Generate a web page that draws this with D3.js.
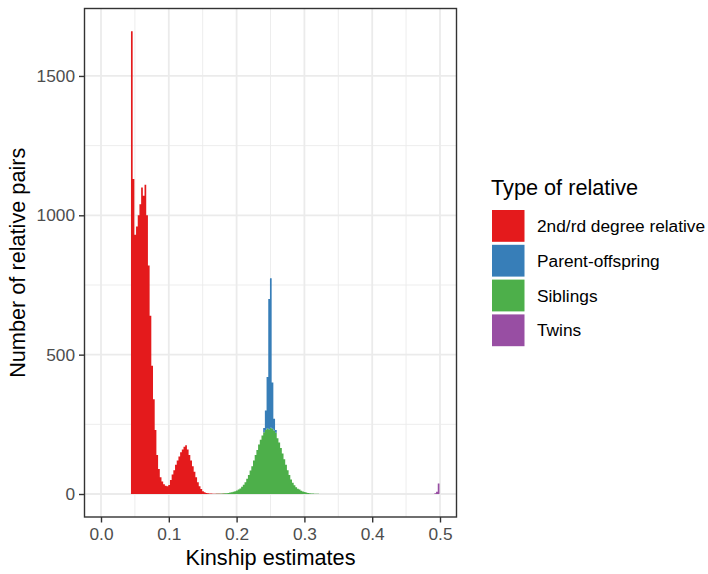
<!DOCTYPE html>
<html>
<head>
<meta charset="utf-8">
<script src="https://cdn.jsdelivr.net/npm/d3@7/dist/d3.min.js"></script>
<style>
body { margin: 0; background: #ffffff; }
text { font-family: "Liberation Sans", Arial, sans-serif; }
</style>
</head>
<body>
<script>
// Histogram of kinship estimates, stacked by type of relative.
// Bins are 0.0025 wide, starting at the 3rd degree cutoff 0.0442.
var binStart = 0.0442,
    binWidth = 0.0025;

var categories = ["2nd/rd degree relative", "Parent-offspring",
                  "Siblings", "Twins"];
var colors = ["#E41A1C", "#377EB8", "#4DAF4A", "#984EA3"];

// counts per bin, each series begins at its own first bin index
var relativeFirstBin = 0;
var relativeCounts = [
    1660, 1130, 930, 960, 1000, 1040, 1100, 1070, 1110, 1000,
    820, 640, 460, 340, 230, 140, 90, 60, 45, 35,
    30, 28, 32, 50, 70, 85, 105, 120, 135, 150,
    160, 170, 175, 160, 140, 120, 100, 80, 60, 42,
    28, 18, 10, 6, 4, 3, 2, 2, 1, 1,
    1, 1, 1, 0, 1];

var parentFirstBin = 78;
var parentCounts = [15, 70, 184, 468, 536, 166, 42, 10];

var siblingFirstBin = 50;
var siblingCounts = [
    1, 1, 1, 2, 2, 3, 3, 4, 5, 6,
    8, 10, 13, 16, 20, 26, 33, 42, 55, 68,
    84, 100, 120, 140, 158, 178, 195, 210, 222, 230,
    236, 232, 238, 234, 228, 220, 200, 185, 165, 145,
    125, 105, 85, 68, 52, 40, 31, 24, 19, 16,
    12, 9, 7, 5, 4, 3, 2, 2, 1, 1, 1];

var twinFirstBin = 179;
var twinCounts = [3, 8, 38];

var xTicks = [0, 0.1, 0.2, 0.3, 0.4, 0.5];
var xMinor = [0.05, 0.15, 0.25, 0.35, 0.45];
var yTicks = [0, 500, 1000, 1500];
var yMinor = [250, 750, 1250];

// panel placement (ggplot theme_bw look)
var margin = {top: 8.5, right: 251.5, bottom: 57, left: 84.5},
    width = 708 - margin.left - margin.right,
    height = 574 - margin.top - margin.bottom;

var svg = d3.select("body").append("svg")
    .attr("width", 708)
    .attr("height", 574);

var g = svg.append("g")
    .attr("transform", "translate(" + margin.left + "," + margin.top + ")");

var xScale = d3.scaleLinear().domain([-0.02434, 0.52434]).range([0, width]);
var yScale = d3.scaleLinear().domain([-82.5, 1742]).range([height, 0]);

// build one row per bin for d3.stack
var series = [
    {name: categories[0], first: relativeFirstBin, counts: relativeCounts},
    {name: categories[1], first: parentFirstBin, counts: parentCounts},
    {name: categories[2], first: siblingFirstBin, counts: siblingCounts},
    {name: categories[3], first: twinFirstBin, counts: twinCounts}
];
var nBins = d3.max(series, function(s) { return s.first + s.counts.length; });
var table = d3.range(nBins).map(function(i) {
    var row = {x0: binStart + i * binWidth, x1: binStart + (i + 1) * binWidth};
    series.forEach(function(s) {
        var j = i - s.first;
        row[s.name] = (j >= 0 && j < s.counts.length) ? s.counts[j] : 0;
    });
    return row;
});

var color = d3.scaleOrdinal().domain(categories).range(colors);

// ggplot puts the first level on top, so stack in reverse order
var stacked = d3.stack().keys(categories.slice().reverse())(table);

// grid
g.append("g").selectAll("line")
    .data(xMinor).enter().append("line")
    .attr("x1", function(d) { return xScale(d); })
    .attr("x2", function(d) { return xScale(d); })
    .attr("y1", 0).attr("y2", height)
    .attr("stroke", "#EBEBEB").attr("stroke-width", 0.9);
g.append("g").selectAll("line")
    .data(yMinor).enter().append("line")
    .attr("y1", function(d) { return yScale(d); })
    .attr("y2", function(d) { return yScale(d); })
    .attr("x1", 0).attr("x2", width)
    .attr("stroke", "#EBEBEB").attr("stroke-width", 0.9);
g.append("g").selectAll("line")
    .data(xTicks).enter().append("line")
    .attr("x1", function(d) { return xScale(d); })
    .attr("x2", function(d) { return xScale(d); })
    .attr("y1", 0).attr("y2", height)
    .attr("stroke", "#EBEBEB").attr("stroke-width", 1.8);
g.append("g").selectAll("line")
    .data(yTicks).enter().append("line")
    .attr("y1", function(d) { return yScale(d); })
    .attr("y2", function(d) { return yScale(d); })
    .attr("x1", 0).attr("x2", width)
    .attr("stroke", "#EBEBEB").attr("stroke-width", 1.8);

// bars: each stacked layer is drawn as one stepped outline so that
// neighbouring bins do not leave thin seams between them
var stepArea = d3.area()
    .x(function(p) { return xScale(p.x); })
    .y0(function(p) { return yScale(p.lo); })
    .y1(function(p) { return yScale(p.hi); });

function stepPoints(layer) {
    var pts = [];
    layer.forEach(function(p) {
        pts.push({x: p.data.x0, lo: p[0], hi: p[1]});
        pts.push({x: p.data.x1, lo: p[0], hi: p[1]});
    });
    return pts;
}

g.append("g").selectAll("path")
    .data(stacked).enter().append("path")
    .attr("fill", function(d) { return color(d.key); })
    .attr("d", function(d) {
        return stepArea.defined(function(p) { return p.hi > p.lo; })(stepPoints(d));
    });

// panel border
g.append("rect")
    .attr("width", width).attr("height", height)
    .attr("fill", "none").attr("stroke", "#333333").attr("stroke-width", 1.4);

// axes
var xAxis = d3.axisBottom(xScale).tickValues(xTicks).tickSize(5.5)
    .tickPadding(5).tickFormat(d3.format(".1f"));
var yAxis = d3.axisLeft(yScale).tickValues(yTicks).tickSize(5.5)
    .tickPadding(4).tickFormat(d3.format("d"));

var gx = g.append("g")
    .attr("transform", "translate(0," + height + ")")
    .call(xAxis);
var gy = g.append("g").call(yAxis);

[gx, gy].forEach(function(ax) {
    ax.select(".domain").remove();
    ax.selectAll(".tick line")
        .attr("stroke", "#333333").attr("stroke-width", 1.4);
    ax.selectAll(".tick text")
        .attr("fill", "#4D4D4D")
        .style("font-size", "17.3px")
        .style("font-family", "'Liberation Sans', Arial, sans-serif");
});

// axis titles
svg.append("text")
    .attr("x", margin.left + width / 2)
    .attr("y", 565)
    .attr("text-anchor", "middle")
    .style("font-size", "21.7px")
    .attr("fill", "#000000")
    .text("Kinship estimates");

svg.append("text")
    .attr("transform", "rotate(-90)")
    .attr("x", -(margin.top + height / 2))
    .attr("y", 25)
    .attr("text-anchor", "middle")
    .style("font-size", "21.7px")
    .attr("fill", "#000000")
    .text("Number of relative pairs");

// legend
var legend = svg.append("g").attr("transform", "translate(491,0)");
legend.append("text")
    .attr("x", 0).attr("y", 195)
    .style("font-size", "21.7px")
    .attr("fill", "#000000")
    .text("Type of relative");

var items = legend.selectAll(".item")
    .data(categories).enter().append("g")
    .attr("class", "item")
    .attr("transform", function(d, i) {
        return "translate(0," + (208.5 + i * 34.8) + ")";
    });
items.append("rect")
    .attr("x", 1).attr("y", 1.5)
    .attr("width", 32.5).attr("height", 31.8)
    .attr("fill", function(d) { return color(d); });
items.append("text")
    .attr("x", 46).attr("y", 17.4)
    .attr("dy", "0.35em")
    .style("font-size", "17.3px")
    .attr("fill", "#000000")
    .text(function(d) { return d; });
</script>
</body>
</html>
